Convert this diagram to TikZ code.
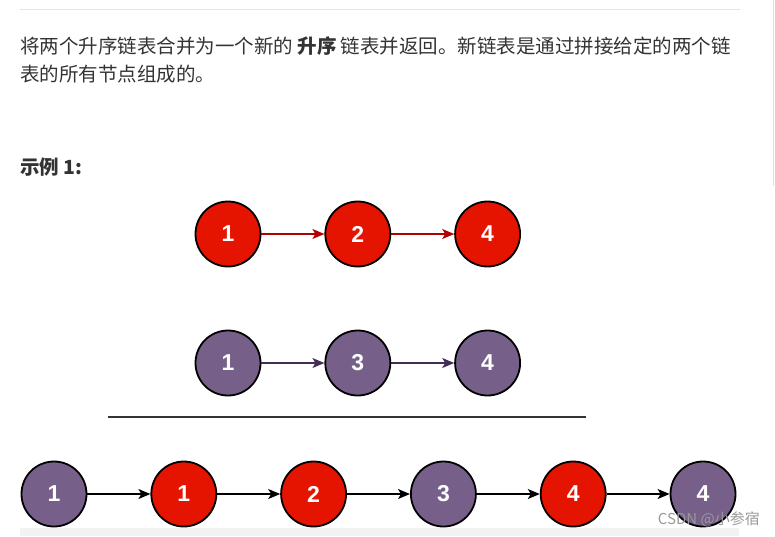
\documentclass[tikz,border=0pt]{standalone}
\usepackage{fontspec}
\setmainfont{Liberation Sans}
\newfontfamily\cjk{Noto Sans CJK SC}
\usetikzlibrary{arrows.meta,positioning}
\definecolor{nodered}{HTML}{E51400}
\definecolor{nodepurple}{HTML}{76608A}
\definecolor{linkred}{HTML}{B20000}
\definecolor{linkpurple}{HTML}{432D57}
\definecolor{bodytext}{HTML}{333333}

\begin{document}
\begin{tikzpicture}[x=1pt, y=-1pt,
    node distance=63pt,
    listnode/.style={circle, draw=black, line width=1.8pt, minimum size=65pt,
      inner sep=0pt, text=white, font=\fontsize{23}{23}\selectfont\bfseries},
    rednode/.style={listnode, fill=nodered},
    purplenode/.style={listnode, fill=nodepurple},
    link/.style={line width=1.4pt, -{Stealth[length=12pt,width=10pt,inset=3pt]}},
    para/.style={anchor=base west, inner sep=0pt, text=bodytext,
      font=\cjk\fontsize{19.5}{19.5}\selectfont}
  ]
  \useasboundingbox (0,0) rectangle (775,536);
  \draw [line width=1pt, black!10] (20,9) -- (740,9);
  \draw [line width=1pt, black!12] (773,0) -- (773,186);

  % text
  \node [para] (line1) at (20,53) {将两个升序链表合并为一个新的 {\bfseries 升序} 链表并返回。新链表是通过拼接给定的两个链};
  \node [para] (line2) at (20,81) {表的所有节点组成的。};
  \node [para, font=\cjk\fontsize{19.5}{19.5}\selectfont\bfseries] (example) at (20,174) {示例 1:};

  % list 1
  \node [rednode] (a1) at (228,234) {1};
  \node [rednode, right=of a1] (a2) {2};
  \node [rednode, right=of a2] (a3) {4};
  \draw [link, linkred] (a1) -- (a2);
  \draw [link, linkred] (a2) -- (a3);

  % list 2
  \node [purplenode] (b1) at (228,363) {1};
  \node [purplenode, right=of b1] (b2) {3};
  \node [purplenode, right=of b2] (b3) {4};
  \draw [link, linkpurple] (b1) -- (b2);
  \draw [link, linkpurple] (b2) -- (b3);

  \draw [line width=2pt, black!80] (108,417) -- (586,417);

  % merged
  \fill [black!5] (20,528) rectangle (739,536);
  \node [purplenode] (c1) at (54,494) {1};
  \node [rednode, right=of c1] (c2) {1};
  \node [rednode, right=of c2] (c3) {2};
  \node [purplenode, right=of c3] (c4) {3};
  \node [rednode, right=of c4] (c5) {4};
  \node [purplenode, right=of c5] (c6) {4};
  \foreach \i/\j in {1/2,2/3,3/4,4/5,5/6}
    \draw [link, black] (c\i) -- (c\j);

  \node [anchor=east, inner sep=0pt, text=black!40,
    font=\cjk\fontsize{15}{15}\selectfont] (mark) at (760,519) {CSDN @小参宿};
\end{tikzpicture}
\end{document}
